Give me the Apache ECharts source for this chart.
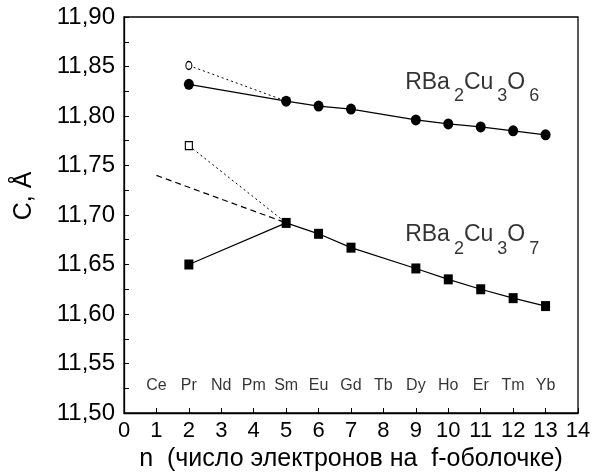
<!DOCTYPE html>
<html>
<head>
<meta charset="utf-8">
<script src="https://cdn.jsdelivr.net/npm/echarts@6/dist/echarts.min.js"></script>
<style>
  html, body { margin: 0; padding: 0; background: #fff; }
  #chart { width: 596px; height: 475px; }
</style>
</head>
<body>
<div id="chart"></div>
<script>
  // n (число f-электронов) и значения параметра C
  var elements = ['Ce', 'Pr', 'Nd', 'Pm', 'Sm', 'Eu', 'Gd', 'Tb', 'Dy', 'Ho', 'Er', 'Tm', 'Yb']
  var elemY = 11.528

  var o6N = [2, 5, 6, 7, 9, 10, 11, 12, 13]
  var o6C = [11.832, 11.815, 11.810, 11.807, 11.796, 11.792, 11.789, 11.785, 11.781]
  var o6OpenN = [2, 5]
  var o6OpenC = [11.851, 11.815]

  var o7N = [2, 5, 6, 7, 9, 10, 11, 12, 13]
  var o7C = [11.650, 11.692, 11.681, 11.667, 11.646, 11.635, 11.625, 11.616, 11.608]
  var o7OpenN = [2, 5]
  var o7OpenC = [11.770, 11.692]

  var dashN = [1, 5]
  var dashC = [11.740, 11.692]

  var font = 'Liberation Sans, Arial, sans-serif'

  function pairs(xs, ys) {
    return xs.map(function(x, i) { return [x, ys[i]] })
  }
  // первая точка - открытый маркер, вторая без маркера
  function openPairs(xs, ys) {
    return xs.map(function(x, i) {
      return i === 0 ? [x, ys[i]] : { value: [x, ys[i]], symbol: 'none' }
    })
  }

  var chart = echarts.init(document.getElementById('chart'))
  var subRich = {
    m: { fontSize: 23, fontFamily: font, color: '#000' },
    s: { fontSize: 18, fontFamily: font, color: '#000', padding: [28, 0, 0, 4] }
  }

  var options = {
    animation: false,
    grid: {
      left: 124, right: 18, top: 17, bottom: 62,
      outerBoundsMode: 'none',
      show: true, borderColor: '#000', borderWidth: 1.3, backgroundColor: 'transparent'
    },
    xAxis: {
      type: 'value', min: 0, max: 14, interval: 1,
      name: 'n  (число электронов на  f-оболочке)',
      nameLocation: 'middle', nameGap: 33,
      nameTextStyle: { fontSize: 25, fontFamily: font, color: '#000' },
      axisLine: { lineStyle: { color: '#000', width: 1.3 } },
      axisTick: { inside: true, length: 5, lineStyle: { color: '#000' } },
      axisLabel: { fontSize: 22, fontFamily: font, color: '#000', margin: 7 },
      splitLine: { show: false }
    },
    yAxis: {
      type: 'value', min: 11.5, max: 11.9, interval: 0.05,
      name: 'C, Å',
      nameLocation: 'middle', nameGap: 87,
      nameTextStyle: { fontSize: 25, fontFamily: font, color: '#000', padding: [0, 0, 0, 38] },
      axisLine: { lineStyle: { color: '#000', width: 1.3 } },
      axisTick: { inside: true, length: 5, lineStyle: { color: '#000' } },
      minorTick: { show: true, splitNumber: 2, length: 5, lineStyle: { color: '#000' } },
      axisLabel: {
        fontSize: 24, fontFamily: font, color: '#000', margin: 9,
        formatter: function(v) { return v.toFixed(2).replace('.', ',') }
      },
      splitLine: { show: false }
    },
    series: [
      {
        type: 'line', data: pairs(o6N, o6C),
        symbol: 'circle', symbolSize: [10, 11],
        lineStyle: { color: '#000', width: 1.2 },
        itemStyle: { color: '#000' }, z: 5
      },
      {
        type: 'line', data: openPairs(o6OpenN, o6OpenC),
        symbol: 'circle', symbolSize: [6, 8],
        lineStyle: { color: '#000', width: 1, type: [2, 3] },
        itemStyle: { color: '#fff', borderColor: '#000', borderWidth: 1.2 }
      },
      {
        type: 'line', data: pairs(o7N, o7C),
        symbol: 'rect', symbolSize: [9, 10],
        lineStyle: { color: '#000', width: 1.2 },
        itemStyle: { color: '#000' }, z: 5
      },
      {
        type: 'line', data: openPairs(o7OpenN, o7OpenC),
        symbol: 'rect', symbolSize: [7, 8],
        lineStyle: { color: '#000', width: 1, type: [2, 3] },
        itemStyle: { color: '#fff', borderColor: '#000', borderWidth: 1.2 }
      },
      {
        type: 'line', data: pairs(dashN, dashC), symbol: 'none',
        lineStyle: { color: '#000', width: 1.2, type: [6, 4] }
      },
      {
        type: 'scatter', symbolSize: 0, silent: true,
        data: elements.map(function(e, i) { return { name: e, value: [i + 1, elemY] } }),
        label: {
          show: true, position: 'inside', formatter: '{b}',
          fontSize: 16, fontFamily: font, color: '#000'
        }
      },
      {
        type: 'scatter', symbolSize: 0, silent: true,
        data: [
          { name: 'o6', value: [8.67, 11.834] },
          { name: 'o7', value: [8.67, 11.680] }
        ],
        label: {
          show: true, position: 'right', distance: 0,
          formatter: function(p) {
            var k = p.name === 'o6' ? '6' : '7'
            return '{m|RBa}{s|2}{m|Cu}{s|3}{m|O}{s|' + k + '}'
          },
          rich: subRich
        }
      }
    ]
  }
  chart.setOption(options)
</script>
</body>
</html>
